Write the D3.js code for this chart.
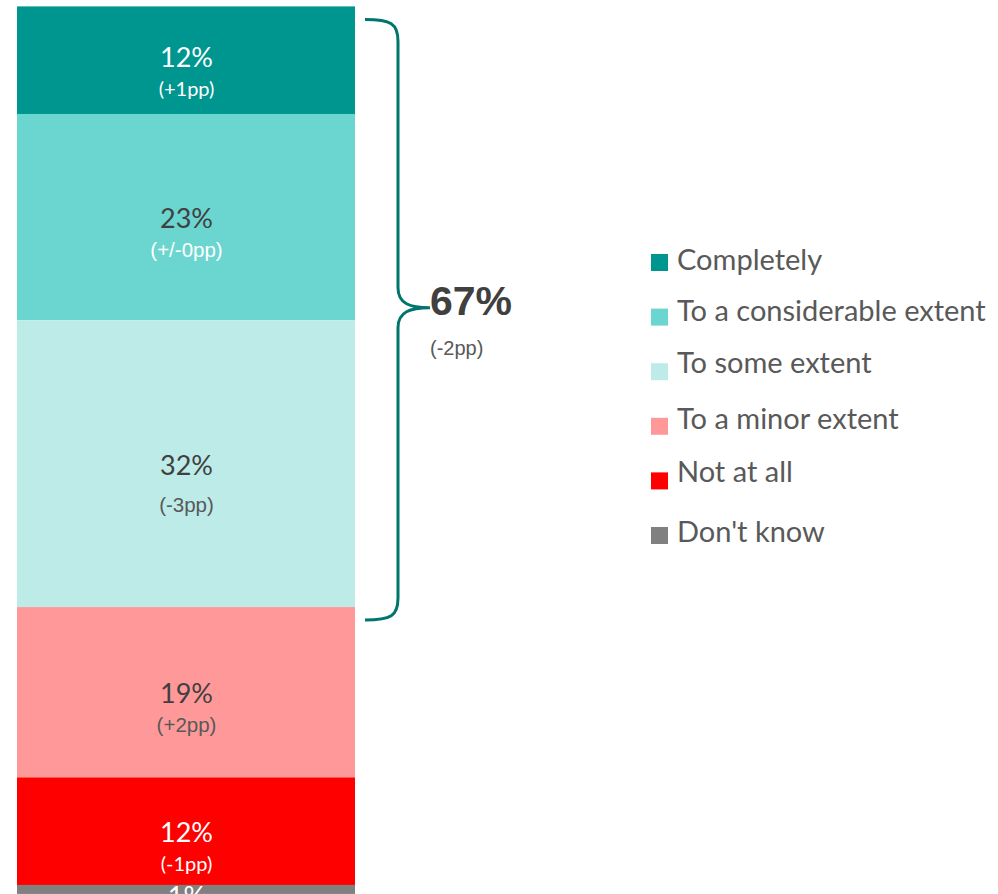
<!DOCTYPE html>
<html>
<head>
<meta charset="utf-8">
<script src="https://cdn.jsdelivr.net/npm/d3@7"></script>
<style>
  body { margin: 0; overflow: hidden; background: #fff; }
</style>
</head>
<body>
<div id="chart"></div>
<script>
// Chart data
const categories = ["Completely", "To a considerable extent", "To some extent", "To a minor extent", "Not at all", "Don't know"];
const values = [12, 23, 32, 19, 12, 1];
const changes = ["(+1pp)", "(+/-0pp)", "(-3pp)", "(+2pp)", "(-1pp)", null];
const braceTotal = "67%";
const braceChange = "(-2pp)";
const braceCount = 3; // first three segments

const colors = ["#009690", "#6bd5cf", "#bdebe8", "#ff9999", "#ff0000", "#808080"];
// text colours per segment: value, change
const valueColors = ["#fff", "#404040", "#404040", "#404040", "#fff", "#fff"];
const changeColors = ["#fff", "#fff", "#595959", "#595959", "#fff", "#fff"];
const changeFonts = ["Lato", "Liberation Sans", "Liberation Sans", "Liberation Sans", "Lato", "Lato"];

const width = 998, height = 894;

const svg = d3.select("#chart")
  .append("svg")
  .attr("width", width)
  .attr("height", height);

// Stack the values
let cum = 0;
const stacked = values.map((v, i) => {
  const d = { cat: categories[i], value: v, change: changes[i], y0: cum, y1: cum + v, i };
  cum += v;
  return d;
});

const yScale = d3.scaleLinear().domain([0, 100]).range([6.4, 6.4 + 896.5]);
const xScale = d3.scaleBand().domain(["all"]).range([17, 355]);

// Bars
svg.selectAll("rect.seg")
  .data(stacked)
  .enter()
  .append("rect")
  .attr("class", "seg")
  .attr("x", xScale("all"))
  .attr("width", xScale.bandwidth())
  .attr("y", d => yScale(d.y0))
  .attr("height", d => yScale(d.y1) - yScale(d.y0))
  .attr("fill", d => colors[d.i]);

const cx = xScale("all") + xScale.bandwidth() / 2 + 0.5;
const mid = d => (yScale(d.y0) + yScale(d.y1)) / 2;
const lift = d => (d.i === 0 ? -4 : 0);

// Value labels
svg.selectAll("text.val")
  .data(stacked)
  .enter()
  .append("text")
  .attr("class", "val")
  .attr("x", cx)
  .attr("y", d => (d.i === stacked.length - 1 ? yScale(d.y0) + 21 : mid(d) + 11 + lift(d)))
  .attr("text-anchor", "middle")
  .attr("font-family", "Lato, sans-serif")
  .attr("font-size", 27)
  .attr("fill", d => valueColors[d.i])
  .text(d => d.value + "%");

// Change labels
svg.selectAll("text.chg")
  .data(stacked.filter(d => d.change))
  .enter()
  .append("text")
  .attr("class", "chg")
  .attr("x", cx)
  .attr("y", d => mid(d) + 40 + lift(d) + (d.i === 2 ? 8 : 0))
  .attr("text-anchor", "middle")
  .attr("font-family", d => changeFonts[d.i] + ", sans-serif")
  .attr("font-size", d => changeFonts[d.i] === "Lato" ? 20 : 20.5)
  .attr("fill", d => changeColors[d.i])
  .text(d => d.change);

// Brace around the first three segments
const bTop = yScale(0) + 13;
const bBot = yScale(stacked[braceCount - 1].y1) + 13;
const bMid = (bTop + bBot) / 2 - 12;
const x0 = 365, xv = 398, xt = 430;

const brace = d3.path();
brace.moveTo(x0, bTop);
brace.bezierCurveTo(x0 + 26, bTop, xv, bTop + 4, xv, bTop + 22);
brace.lineTo(xv, bMid - 20);
brace.bezierCurveTo(xv, bMid - 4, xv + 12, bMid, xt, bMid);
brace.bezierCurveTo(xv + 12, bMid, xv, bMid + 4, xv, bMid + 20);
brace.lineTo(xv, bBot - 22);
brace.bezierCurveTo(xv, bBot - 4, x0 + 26, bBot, x0, bBot);

svg.append("path")
  .attr("d", brace.toString())
  .attr("fill", "none")
  .attr("stroke", "#00756e")
  .attr("stroke-width", 3);

svg.append("text")
  .attr("x", 430)
  .attr("y", bMid + 7)
  .attr("font-family", "Liberation Sans, Arial, sans-serif")
  .attr("font-weight", "bold")
  .attr("font-size", 41)
  .attr("fill", "#404040")
  .text(braceTotal);

svg.append("text")
  .attr("x", 430)
  .attr("y", bMid + 47)
  .attr("font-family", "Liberation Sans, Arial, sans-serif")
  .attr("font-size", 20)
  .attr("fill", "#595959")
  .text(braceChange);

// Legend
const legendTextY = [16, 12, 10, 11, 10, 15];
const legend = svg.append("g").attr("transform", "translate(651, 254)");
const rows = legend.selectAll("g")
  .data(categories)
  .enter()
  .append("g")
  .attr("transform", (d, i) => `translate(0, ${i * 54.6})`);

rows.append("rect")
  .attr("width", 17)
  .attr("height", 17)
  .attr("fill", (d, i) => colors[i]);

rows.append("text")
  .attr("x", 26)
  .attr("y", (d, i) => legendTextY[i])
  .attr("font-family", "Lato, sans-serif")
  .attr("font-size", 29)
  .attr("fill", "#595959")
  .text(d => d);
</script>
</body>
</html>
